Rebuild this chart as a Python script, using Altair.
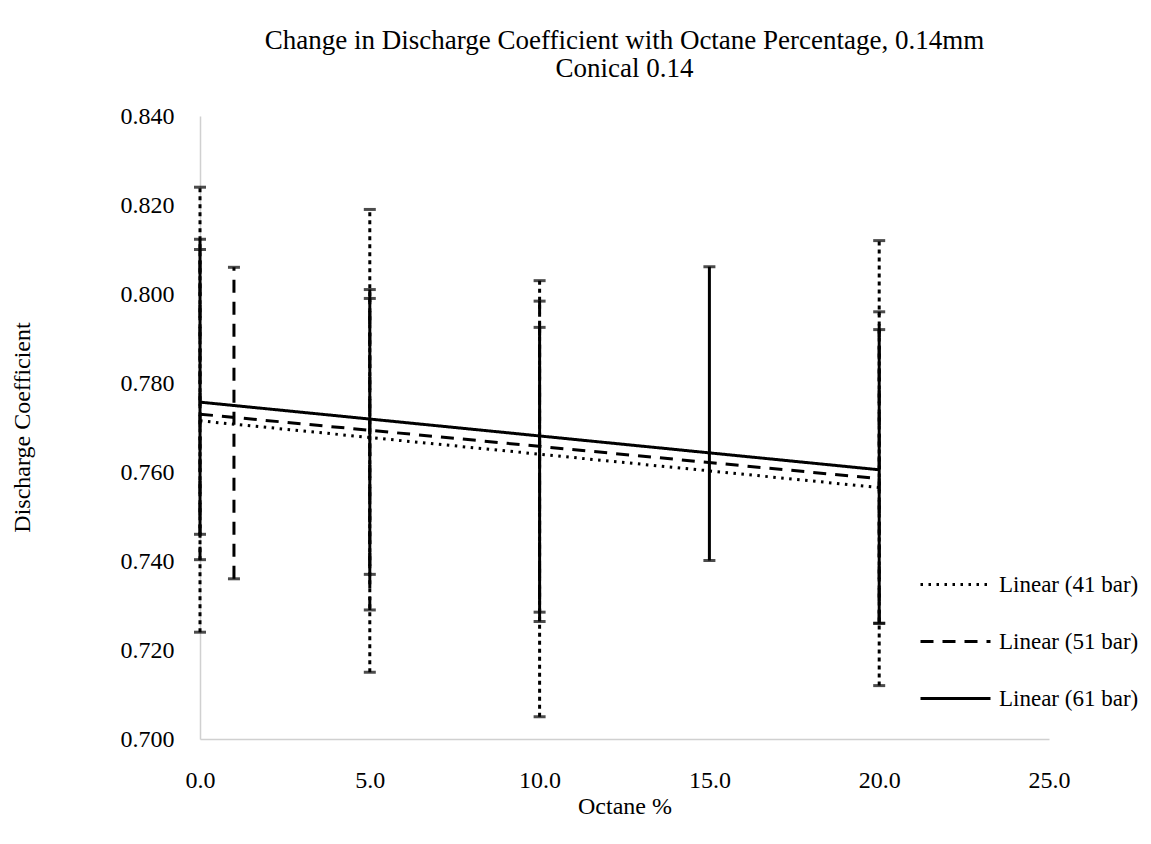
import altair as alt
import pandas as pd

# ---- data ----
series_names = ["41 bar", "51 bar", "61 bar"]
trend_labels = ["Linear (41 bar)", "Linear (51 bar)", "Linear (61 bar)"]

x41 = [0, 5, 10, 20]
y41 = [0.774, 0.767, 0.754, 0.762]
e41 = [0.050, 0.052, 0.049, 0.050]

x51 = [0, 1, 5, 10, 20]
y51 = [0.7763, 0.771, 0.764, 0.7624, 0.761]
e51 = [0.036, 0.035, 0.035, 0.036, 0.035]

x61 = [0, 5, 10, 15, 20]
y61 = [0.778, 0.769, 0.7605, 0.7731, 0.759]
e61 = [0.032, 0.032, 0.032, 0.033, 0.033]

trend_x = [0, 20]
trend41 = [0.7715, 0.7565]
trend51 = [0.7730, 0.7585]
trend61 = [0.7757, 0.7605]

x_ticks = [0, 5, 10, 15, 20, 25]
y_ticks = [0.70, 0.72, 0.74, 0.76, 0.78, 0.80, 0.82, 0.84]

# ---- tables ----
rows = []
for name, xs, ys, es in zip(series_names, [x41, x51, x61], [y41, y51, y61], [e41, e51, e61]):
    for xv, yv, ev in zip(xs, ys, es):
        rows.append({"x": xv, "lo": yv - ev, "hi": yv + ev, "series": name})
err = pd.DataFrame(rows)

trows = []
for lab, tv in zip(trend_labels, [trend41, trend51, trend61]):
    for xv, yv in zip(trend_x, tv):
        trows.append({"x": xv, "y": yv, "label": lab})
trend = pd.DataFrame(trows)

FONT = "Liberation Serif"

xscale = alt.Scale(domain=[0, 25], nice=False, zero=False)
yscale = alt.Scale(domain=[0.70, 0.84], nice=False, zero=False)

xaxis = alt.Axis(
    values=x_ticks, format=".1f", title="Octane %", grid=False, ticks=False,
    domainColor="#d0d0d0", domainWidth=1.5, labelFont=FONT, labelFontSize=24,
    labelColor="black", labelPadding=29, labelFlush=False, titleFont=FONT, titleFontSize=24,
    titleFontWeight="normal", titleColor="black", titleY=67, titleBaseline="middle",
)
yaxis = alt.Axis(
    values=y_ticks, format=".3f", title="Discharge Coefficient", grid=False, ticks=False,
    domainColor="#d0d0d0", domainWidth=1.5, labelFont=FONT, labelFontSize=24,
    labelColor="black", labelPadding=26, labelFlush=False, titleFont=FONT, titleFontSize=24,
    titleFontWeight="normal", titleColor="black", titleAngle=270, titleX=-178,
    titleY=311, titleAlign="center", titleBaseline="middle",
)

err_dash = alt.StrokeDash(
    "series:N",
    scale=alt.Scale(domain=series_names, range=[[4, 4], [13, 9], [1, 0]]),
    legend=None,
)

base_err = alt.Chart(err).encode(
    x=alt.X("x:Q", scale=xscale, axis=xaxis),
)

rules = base_err.mark_rule(strokeWidth=3, color="black").encode(
    y=alt.Y("lo:Q", scale=yscale, axis=yaxis),
    y2="hi:Q",
    strokeDash=err_dash,
)
caps_lo = base_err.mark_tick(orient="horizontal", size=12, thickness=3, color="black").encode(
    y=alt.Y("lo:Q", scale=yscale, axis=yaxis)
)
caps_hi = base_err.mark_tick(orient="horizontal", size=12, thickness=3, color="black").encode(
    y=alt.Y("hi:Q", scale=yscale, axis=yaxis)
)

errbars = alt.layer(rules, caps_lo, caps_hi)

lines = alt.Chart(trend).mark_line(strokeWidth=3, color="black").encode(
    x=alt.X("x:Q", scale=xscale, axis=xaxis),
    y=alt.Y("y:Q", scale=yscale, axis=yaxis),
    strokeDash=alt.StrokeDash(
        "label:N",
        scale=alt.Scale(domain=trend_labels, range=[[2.5, 5.5], [13, 9], [1, 0]]),
        legend=alt.Legend(
            title=None, orient="none", legendX=726, legendY=439, padding=0,
            symbolType="M-1.25,0H1.25", symbolSize=3136, symbolStrokeWidth=3,
            symbolStrokeColor="black", labelFont=FONT, labelFontSize=23,
            labelColor="black", labelOffset=14, rowPadding=15, labelLimit=300,
        ),
    ),
)

chart = (
    alt.layer(errbars, lines)
    .resolve_scale(strokeDash="independent")
    .properties(
        width=849,
        height=623,
        padding={"left": 192, "top": 108, "right": 94, "bottom": 90},
        autosize=alt.AutoSizeParams(type="none"),
        view=alt.ViewBackground(strokeOpacity=0, strokeWidth=0),
        title=alt.TitleParams(
            text=["Change in Discharge Coefficient with Octane Percentage, 0.14mm", "Conical 0.14"],
            font=FONT, fontSize=27, fontWeight="normal", color="black",
            anchor="middle", offset=21, lineHeight=28,
        ),
    )
    .configure_view(strokeWidth=0, strokeOpacity=0)
    .configure(background="white")
)

chart.save("out.html", embed_options={"renderer": "svg", "actions": False})
